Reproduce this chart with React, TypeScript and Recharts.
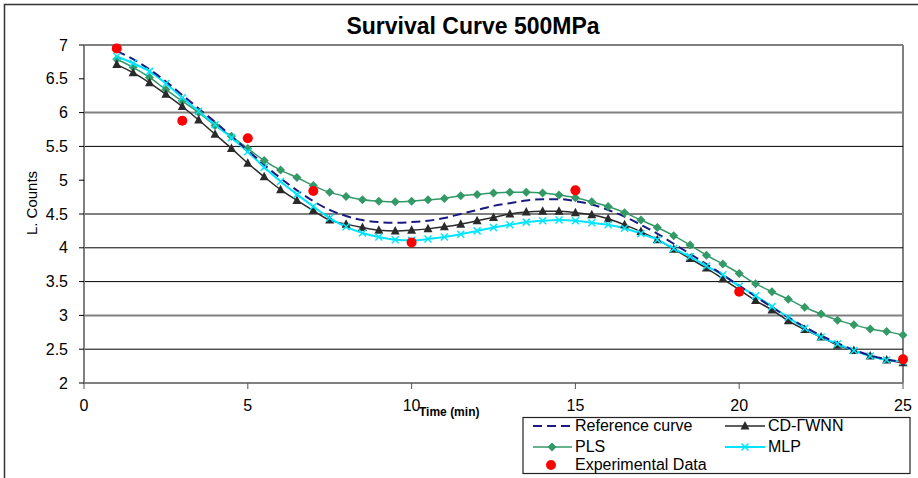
import React from 'react';
import { ComposedChart, Line, XAxis, YAxis, CartesianGrid } from 'recharts';

const times = [1, 1.5, 2, 2.5, 3, 3.5, 4, 4.5, 5, 5.5, 6, 6.5, 7, 7.5, 8, 8.5, 9, 9.5, 10, 10.5, 11, 11.5, 12, 12.5, 13, 13.5, 14, 14.5, 15, 15.5, 16, 16.5, 17, 17.5, 18, 18.5, 19, 19.5, 20, 20.5, 21, 21.5, 22, 22.5, 23, 23.5, 24, 24.5, 25];

const referenceCurve = [6.91, 6.79, 6.64, 6.46, 6.26, 6.06, 5.86, 5.65, 5.44, 5.23, 5.03, 4.85,
  4.69, 4.56, 4.47, 4.41, 4.38, 4.37, 4.38, 4.40, 4.44, 4.50, 4.56, 4.62, 4.66, 4.70, 4.72, 4.72, 4.69, 4.64, 4.56, 4.46, 4.34,
  4.21, 4.06, 3.91, 3.76, 3.60, 3.44, 3.28, 3.12, 2.97, 2.83, 2.70, 2.59, 2.49, 2.41, 2.35, 2.31];

const cdGwnn = [6.71, 6.59, 6.44, 6.27, 6.09, 5.89, 5.68, 5.47, 5.25, 5.05, 4.86, 4.70,
  4.55, 4.41, 4.35, 4.30, 4.26, 4.25, 4.26, 4.28, 4.31, 4.35, 4.40, 4.45, 4.50, 4.53, 4.54, 4.54, 4.52, 4.49, 4.43, 4.34, 4.24,
  4.12, 3.98, 3.84, 3.70, 3.54, 3.38, 3.22, 3.08, 2.92, 2.79, 2.68, 2.56, 2.48, 2.40, 2.34, 2.30];

const pls = [6.79, 6.67, 6.52, 6.34, 6.17, 6.00, 5.81, 5.65, 5.47, 5.29, 5.15, 5.04,
  4.92, 4.82, 4.76, 4.71, 4.69, 4.68, 4.69, 4.71, 4.73, 4.77, 4.79, 4.81, 4.82, 4.82, 4.81, 4.78, 4.74, 4.68, 4.61, 4.52, 4.41,
  4.30, 4.18, 4.04, 3.89, 3.76, 3.62, 3.47, 3.35, 3.24, 3.12, 3.02, 2.93, 2.86, 2.80, 2.76, 2.71];

const mlp = [6.83, 6.73, 6.61, 6.43, 6.22, 6.02, 5.82, 5.63, 5.42, 5.19, 4.98, 4.79,
  4.61, 4.44, 4.31, 4.22, 4.16, 4.12, 4.11, 4.13, 4.16, 4.20, 4.25, 4.30, 4.34, 4.38, 4.40, 4.41, 4.40, 4.37, 4.34, 4.29, 4.21,
  4.12, 3.99, 3.87, 3.73, 3.60, 3.43, 3.29, 3.13, 2.97, 2.81, 2.68, 2.58, 2.48, 2.40, 2.34, 2.32];

const expTimes = [1, 3, 5, 7, 10, 15, 20, 25];
const expValues = [6.95, 5.88, 5.62, 4.84, 4.08, 4.85, 3.35, 2.35];

const xTicks = [0, 5, 10, 15, 20, 25];
const yTicks = [2, 2.5, 3, 3.5, 4, 4.5, 5, 5.5, 6, 6.5, 7];
const grayGridValues = [7, 6, 4.5, 3];
const blackGridValues = [5.5, 4, 3.5, 2.5];
const borderXValues = [25];

const data = times.map((t, i) => {
  const k = expTimes.indexOf(t);
  return {
    t,
    ref: referenceCurve[i],
    cd: cdGwnn[i],
    pls: pls[i],
    mlp: mlp[i],
    exp: k >= 0 ? expValues[k] : null,
  };
});

const FONT = "'Liberation Sans', Arial, Helvetica, sans-serif";
const GREEN = '#339966';
const DARK = '#2a2a2a';
const CYAN = '#00E5FF';
const NAVY = '#1a1a80';
const RED = '#FF0000';

const TriangleDot = (props: any) => {
  const { cx, cy, index } = props;
  if (cx == null || cy == null) return <g key={`tri-${index}`} />;
  return <path key={`tri-${index}`} d={`M${cx},${cy - 5}L${cx + 4.5},${cy + 3.5}L${cx - 4.5},${cy + 3.5}Z`} fill={DARK} />;
};

const DiamondDot = (props: any) => {
  const { cx, cy, index } = props;
  if (cx == null || cy == null) return <g key={`dia-${index}`} />;
  return <path key={`dia-${index}`} d={`M${cx},${cy - 4.5}L${cx + 4.5},${cy}L${cx},${cy + 4.5}L${cx - 4.5},${cy}Z`} fill={GREEN} />;
};

const CrossDot = (props: any) => {
  const { cx, cy, index } = props;
  if (cx == null || cy == null) return <g key={`x-${index}`} />;
  return (
    <path key={`x-${index}`} d={`M${cx - 3.5},${cy - 3.5}L${cx + 3.5},${cy + 3.5}M${cx - 3.5},${cy + 3.5}L${cx + 3.5},${cy - 3.5}`}
      stroke={CYAN} strokeWidth={1.5} fill="none" />
  );
};

const RedDot = (props: any) => {
  const { cx, cy, index, value } = props;
  if (cx == null || cy == null || value == null) return <g key={`r-${index}`} />;
  return <circle key={`r-${index}`} cx={cx} cy={cy} r={5} fill={RED} />;
};

export default function App() {
  return (
    <div style={{ position: 'absolute', left: 0, top: 0, width: 918, height: 478, overflow: 'hidden', background: '#fff', fontFamily: FONT }}>
      <ComposedChart width={918} height={478} data={data} margin={{ top: 45, right: 15, bottom: 65, left: 24 }}>
        <CartesianGrid horizontalValues={grayGridValues} verticalValues={borderXValues} stroke="#808080" strokeWidth={2} />
        <CartesianGrid horizontalValues={blackGridValues} vertical={false} stroke="#000" strokeWidth={1} />
        <XAxis
          dataKey="t"
          type="number"
          domain={[0, 25]}
          ticks={xTicks}
          allowDecimals
          tickSize={6}
          tickMargin={11}
          axisLine={{ stroke: '#808080', strokeWidth: 2 }}
          tickLine={{ stroke: '#555' }}
          tick={{ fontSize: 16, fill: '#000', fontFamily: FONT }}
          height={30}
        />
        <YAxis
          type="number"
          domain={[2, 7]}
          ticks={yTicks}
          tickSize={5}
          tickMargin={11}
          width={60}
          axisLine={{ stroke: '#808080', strokeWidth: 2 }}
          tickLine={{ stroke: '#000' }}
          tick={{ fontSize: 16, fill: '#000', fontFamily: FONT }}
        />
        <Line type="monotone" dataKey="pls" stroke={GREEN} strokeWidth={1.5} dot={DiamondDot} activeDot={false} isAnimationActive={false} />
        <Line type="monotone" dataKey="cd" stroke={DARK} strokeWidth={1.5} dot={TriangleDot} activeDot={false} isAnimationActive={false} />
        <Line type="monotone" dataKey="mlp" stroke={CYAN} strokeWidth={2} dot={CrossDot} activeDot={false} isAnimationActive={false} />
        <Line type="monotone" dataKey="ref" stroke={NAVY} strokeWidth={2} strokeDasharray="9 5" dot={false} activeDot={false} isAnimationActive={false} />
        <Line type="monotone" dataKey="exp" stroke="none" dot={RedDot} activeDot={false} connectNulls={false} isAnimationActive={false} />
      </ComposedChart>
      <svg width={918} height={478} style={{ position: 'absolute', left: 0, top: 0, pointerEvents: 'none' }}>
        <path d="M4.5,478V4.5H918" stroke="#333" strokeWidth={1.5} fill="none" />
        <text x={473} y={34} textAnchor="middle" fontFamily={FONT} fontWeight="bold" fontSize={23} fill="#000">Survival Curve 500MPa</text>
        <text x={0} y={0} transform="translate(37,203) rotate(-90)" textAnchor="middle" fontFamily={FONT} fontSize={15} fill="#000">L. Counts</text>
        <text x={419} y={416} fontFamily={FONT} fontWeight="bold" fontSize={12} fill="#000">Time (min)</text>
        <rect x={523} y={417.5} width={387} height={56} fill="#fff" stroke="#222" strokeWidth={1.2} />
        <line x1={533} y1={426} x2={572} y2={426} stroke={NAVY} strokeWidth={2} strokeDasharray="9 5" />
        <text x={575} y={431} fontFamily={FONT} fontSize={16} fill="#000">Reference curve</text>
        <line x1={725} y1={426} x2={765} y2={426} stroke={DARK} strokeWidth={1.5} />
        <path d="M745,421L749.5,429.5L740.5,429.5Z" fill={DARK} />
        <text x={768} y={431} fontFamily={FONT} fontSize={16} fill="#000">CD-ΓWNN</text>
        <line x1={533} y1={447} x2={572} y2={447} stroke={GREEN} strokeWidth={1.5} />
        <path d="M552,442.5L556.5,447L552,451.5L547.5,447Z" fill={GREEN} />
        <text x={575} y={452} fontFamily={FONT} fontSize={16} fill="#000">PLS</text>
        <line x1={725} y1={447} x2={765} y2={447} stroke={CYAN} strokeWidth={2} />
        <path d="M741.5,443.5L748.5,450.5M741.5,450.5L748.5,443.5" stroke={CYAN} strokeWidth={1.5} />
        <text x={768} y={452} fontFamily={FONT} fontSize={16} fill="#000">MLP</text>
        <circle cx={551} cy={465} r={5} fill={RED} />
        <text x={575} y={470} fontFamily={FONT} fontSize={16} fill="#000">Experimental Data</text>
      </svg>
    </div>
  );
}
